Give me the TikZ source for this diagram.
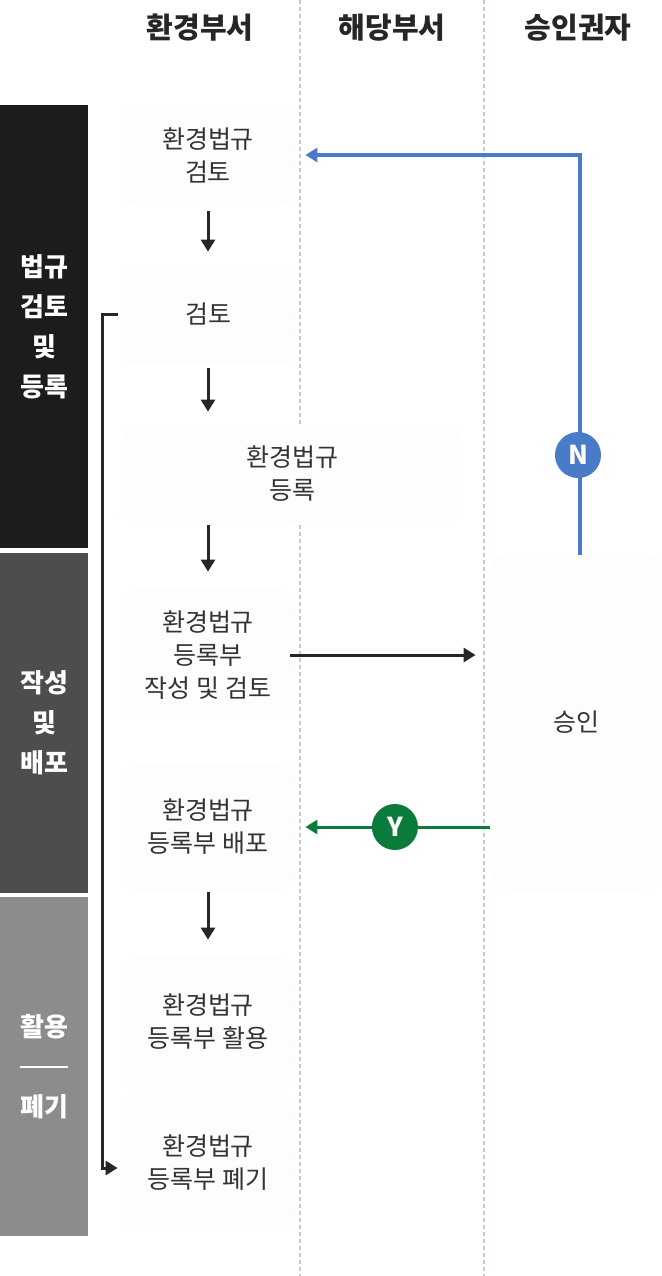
\documentclass[tikz,border=0pt]{standalone}
\usepackage{fontspec}
\setmainfont{Noto Sans CJK KR}
\usepackage{tikz}
\usetikzlibrary{arrows.meta}
\definecolor{barone}{HTML}{1C1C1C}
\definecolor{bartwo}{HTML}{4D4D4D}
\definecolor{barthree}{HTML}{8C8C8C}
\definecolor{boxbg}{HTML}{FEFCFE}
\definecolor{txt}{HTML}{333333}
\definecolor{lane}{HTML}{C5C8D6}
\definecolor{nblue}{HTML}{4A7BC8}
\definecolor{ygreen}{HTML}{0B7B3B}
\tikzset{
    %Define standard arrow tip
    >={Triangle[length=6pt,width=7pt]},
    %Define style for boxes
    step box/.style={
           rectangle,
           rounded corners=8pt,
           fill=boxbg,
           minimum width=88pt,
           minimum height=50pt,
           font=\fontsize{12.5}{16.5}\selectfont,
           text=txt,
           align=center},
    phase/.style={
           rectangle,
           inner sep=0pt,
           minimum width=44pt,
           text=white,
           font=\fontsize{13}{20}\selectfont\bfseries,
           align=center},
    head/.style={
           font=\fontsize{14.5}{16}\selectfont\bfseries,
           text=black!85},
    mark circle/.style={
           circle,
           inner sep=0pt,
           minimum size=23pt,
           text=white,
           font=\fontsize{13}{13}\selectfont\bfseries},
    % Define arrow style
    flow/.style={
           ->,
           line width=1.5pt,
           draw=black!85},
    lanesep/.style={
           draw=lane,
           line width=0.75pt,
           dash pattern=on 2pt off 1.5pt}
}
\begin{document}
\begin{tikzpicture}[x=0.5pt,y=-0.5pt]
\useasboundingbox (0,0) rectangle (662,1276);
 %lanes
\draw[lanesep] (300,0) -- (300,1276);
\draw[lanesep] (484,0) -- (484,1276);
\node[head] (h1) at (200,28) {환경부서};
\node[head] (h2) at (392,28) {해당부서};
\node[head] (h3) at (578,28) {승인권자};
 %phases
\node[phase, fill=barone, minimum height=221.5pt] (p1) at (44,326.5) {법규\\검토\\및\\등록};
\node[phase, fill=bartwo, minimum height=170pt] (p2) at (44,723) {작성\\및\\배포};
\node[phase, fill=barthree, minimum height=169.5pt] (p3) at (44,1066.5)
    {활용\\\rule[4.4pt]{24.5pt}{0.7pt}\\폐기};
 %nodes
\node[step box] (1) at (208,155) {환경법규\\검토};
\node[step box] (2) at (208,314) {검토};
\node[step box, minimum width=170pt, minimum height=49pt] (3) at (292,474) {환경법규\\등록};
\node[step box, minimum height=65pt] (4) at (208,655) {환경법규\\등록부\\작성 및 검토};
\node[step box, minimum height=62.5pt] (5) at (208,827) {환경법규\\등록부 배포};
\node[step box, minimum height=64pt] (6) at (208,1022) {환경법규\\등록부 활용};
\node[step box, minimum height=68.5pt] (7) at (208,1163) {환경법규\\등록부 폐기};
\node[step box, minimum width=86pt, minimum height=167.5pt] (ok) at (576,722) {승인};
 %connectors
\draw[flow, shorten <=3pt, shorten >=6pt] (1) -- (2);
\draw[flow, shorten <=2pt, shorten >=6.5pt] (2.south) -- (2.south |- 3.north);
\draw[flow, shorten <=1pt, shorten >=9pt] (2.south |- 3.south) -- (4.north);
\draw[flow, shorten <=1pt, shorten >=9pt] (5) -- (6);
\draw[flow, shorten <=-3pt, shorten >=7pt] (4.east) -- (4.east -| ok.west);
\draw[flow, draw=ygreen, shorten >=4.5pt] (ok.west |- 5) -- (5.east)
    node[mark circle, fill=ygreen, pos=0.49] (y) {Y};
\draw[flow, draw=nblue, line width=2pt, shorten >=4.5pt] (580,555) |- (1.east);
\node[mark circle, fill=nblue] (n) at (578,455) {N};
\draw[flow, shorten <=1pt, shorten >=1pt] (2.west) -- ++(-17,0) |- ([yshift=-2.5pt]7.west);
\end{tikzpicture}
\end{document}
